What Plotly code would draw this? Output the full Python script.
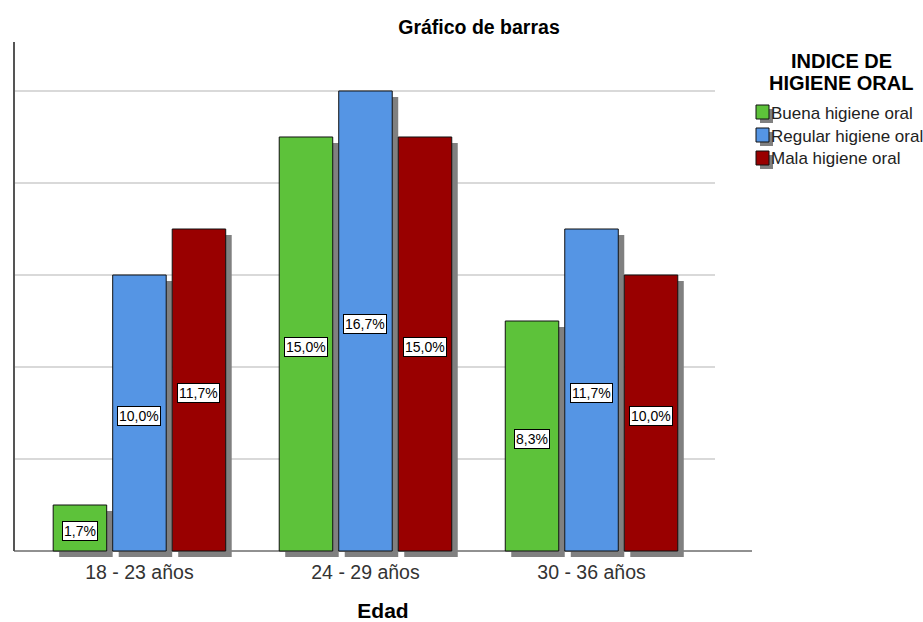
import plotly.graph_objects as go

categories = ["18 - 23 años", "24 - 29 años", "30 - 36 años"]
series_names = ["Buena higiene oral", "Regular higiene oral", "Mala higiene oral"]
counts_buena = [1, 9, 5]
counts_regular = [6, 10, 7]
counts_mala = [7, 9, 6]
pct_buena = [1.7, 15.0, 8.3]
pct_regular = [10.0, 16.7, 11.7]
pct_mala = [11.7, 15.0, 10.0]
grid_values = [2, 4, 6, 8, 10]
legend_title_lines = ["INDICE DE", "HIGIENE ORAL"]
colors = ["#5DC23A", "#5595E4", "#990000"]

series_counts = [counts_buena, counts_regular, counts_mala]
series_pcts = [pct_buena, pct_regular, pct_mala]

W, H = 923, 622
L, R, T, B = 14, 752, 42, 558

def px_x(p):
    return (p - L) / (R - L)

def px_y(p):
    return (B - p) / (B - T)

FONT = "Liberation Sans, Arial, sans-serif"
bar_w = 0.2367
pitch = 0.2633
shadow_dx = 6 / 226
shadow_dy = 0.13

fig = go.Figure()
for i, (name, vals) in enumerate(zip(series_names, series_counts)):
    off = -bar_w / 2 + (i - 1) * pitch
    fig.add_trace(go.Bar(
        x=categories, y=vals, base=-shadow_dy, offset=off + shadow_dx, width=bar_w,
        marker=dict(color="#808080", line=dict(width=0)), showlegend=False, hoverinfo="skip"))
for i, (name, vals) in enumerate(zip(series_names, series_counts)):
    off = -bar_w / 2 + (i - 1) * pitch
    fig.add_trace(go.Bar(
        x=categories, y=vals, offset=off, width=bar_w, name=name,
        marker=dict(color=colors[i], line=dict(color="#111111", width=1)), showlegend=False))

annotations = []
for i, (vals, pcts) in enumerate(zip(series_counts, series_pcts)):
    for j, (v, p) in enumerate(zip(vals, pcts)):
        annotations.append(dict(
            x=j + (i - 1) * pitch, y=v / 2, xref="x", yref="y", yshift=-3,
            text=f"{p:.1f}".replace(".", ",") + "%", showarrow=False,
            font=dict(family=FONT, size=14, color="#000"),
            bgcolor="white", bordercolor="#000", borderwidth=1, borderpad=1))

shapes = []
for g in grid_values:
    shapes.append(dict(type="line", xref="paper", yref="y", x0=0, x1=px_x(715), y0=g, y1=g,
                       line=dict(color="#CCCCCC", width=1.5), layer="below"))
shapes.append(dict(type="line", xref="paper", yref="y", x0=0, x1=1, y0=0, y1=0,
                   line=dict(color="#222222", width=1), layer="below"))
shapes.append(dict(type="line", xref="paper", yref="paper", x0=0, x1=0, y0=px_y(551), y1=1,
                   line=dict(color="#555555", width=2)))

# Legend (manual)
for k, line in enumerate(legend_title_lines):
    annotations.append(dict(x=px_x(841), y=px_y(61 + 22 * k), xref="paper", yref="paper",
                            text=f"<b>{line}</b>", showarrow=False,
                            font=dict(family=FONT, size=20, color="#000"),
                            xanchor="center", yanchor="middle"))
for i, name in enumerate(series_names):
    cy = 112 + i * 23
    shapes.append(dict(type="rect", xref="paper", yref="paper",
                       x0=px_x(760), x1=px_x(773), y0=px_y(cy + 11), y1=px_y(cy - 3),
                       fillcolor="#808080", line=dict(width=0)))
    shapes.append(dict(type="rect", xref="paper", yref="paper",
                       x0=px_x(756), x1=px_x(769), y0=px_y(cy + 7), y1=px_y(cy - 7),
                       fillcolor=colors[i], line=dict(color="#111", width=1)))
    annotations.append(dict(x=px_x(769), y=px_y(cy + 1), xref="paper", yref="paper",
                            text=name, showarrow=False, xanchor="left", yanchor="middle",
                            font=dict(family=FONT, size=17, color="#222")))

fig.update_layout(
    width=W, height=H,
    margin=dict(l=L, r=W - R, t=T, b=H - B, pad=0),
    paper_bgcolor="white", plot_bgcolor="white",
    barmode="overlay",
    title=dict(text="<b>Gráfico de barras</b>", x=479 / W, xanchor="center",
               y=1 - 27 / H, yanchor="middle", font=dict(family=FONT, size=19.5, color="#000")),
    xaxis=dict(range=[-0.555, 2.71], showgrid=False, showline=False, zeroline=False,
               ticks="", automargin=False, tickfont=dict(family=FONT, size=19.5, color="#333"),
               title=dict(text="<b>Edad</b>", font=dict(family=FONT, size=21, color="#000"), standoff=23)),
    yaxis=dict(range=[-0.152, 11.065], showgrid=False, showline=False, zeroline=False,
               showticklabels=False, ticks="", automargin=False),
    annotations=annotations, shapes=shapes, showlegend=False,
)

fig.write_html("out.html", post_script="document.body.style.margin='0';",
               config={"displayModeBar": False})
